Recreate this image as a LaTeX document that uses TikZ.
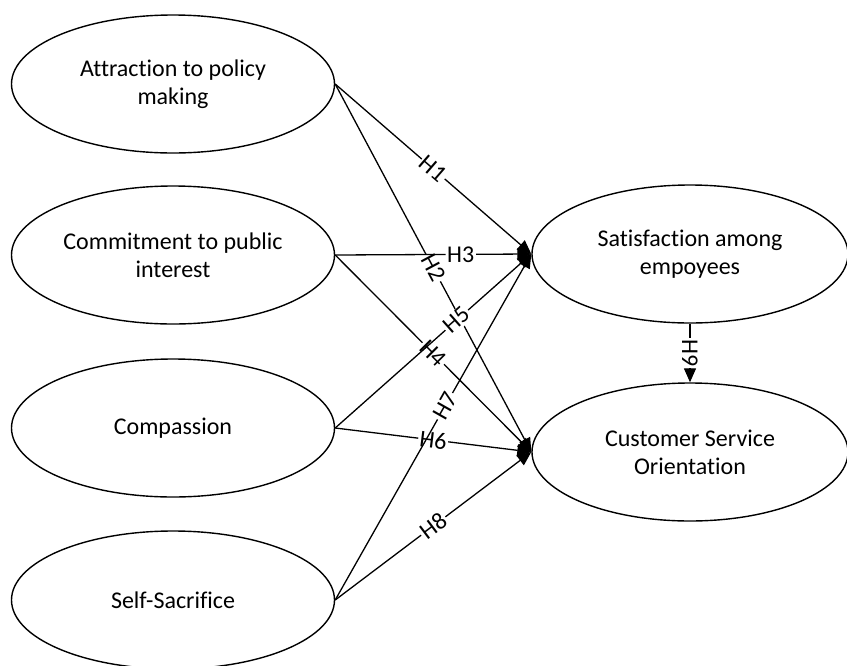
\documentclass[tikz,border=0pt]{standalone}
\usepackage{fontspec}
\setmainfont{Carlito}[Ligatures=NoCommon]
\usepackage{tikz}
\usetikzlibrary{positioning,shapes.geometric,arrows.meta}
\tikzset{
  % --- constructs ------------------------------------------------------------
  construct/.style={ellipse,draw,line width=1.4pt,inner sep=0pt,
                    minimum width=323pt,minimum height=138pt,align=center,
                    font=\fontsize{24}{28}\selectfont},
  outcome/.style={construct,minimum width=316pt},
  % --- hypotheses ------------------------------------------------------------
  hyp/.style={-{Triangle[length=14pt,width=12pt]},line width=1.3pt},
  hlab/.style={sloped,fill=white,inner sep=1.5pt,
               font=\fontsize{24}{28}\selectfont},
}
\begin{document}
\begin{tikzpicture}[x=1pt, y=-1pt]
  \useasboundingbox (0,0) rectangle (847,665);

  \node[construct] (att) at (173,84)  {Attraction to policy\\making};
  \node[construct] (com) at (173,255) {Commitment to public\\interest};
  \node[construct] (cmp) at (173,428) {Compassion};
  \node[construct] (sac) at (173,600) {Self-Sacrifice};

  \node[outcome] (sat) at (690,254) {Satisfaction among\\empoyees};
  \node[outcome] (cso) at (690,452) {Customer Service\\Orientation};

  \draw[hyp] (att.east) -- node[hlab,pos=0.5]  {H1} (sat.west);
  \draw[hyp] (att.east) -- node[hlab,pos=0.5]  {H2} (cso.west);
  \draw[hyp] (com.east) -- node[hlab,pos=0.64] {H3} (sat.west);
  \draw[hyp] (com.east) -- node[hlab,pos=0.5]  {H4} (cso.west);
  \draw[hyp] (cmp.east) -- node[hlab,pos=0.62] {H5} (sat.west);
  \draw[hyp] (cmp.east) -- node[hlab,pos=0.5]  {H6} (cso.west);
  \draw[hyp] (sac.east) -- node[hlab,pos=0.56] {H7} (sat.west);
  \draw[hyp] (sac.east) -- node[hlab,pos=0.5]  {H8} (cso.west);

  \draw[hyp] (sat.south) -- node[hlab,sloped=false,rotate=-90] {H9} (cso.north);
\end{tikzpicture}
\end{document}
